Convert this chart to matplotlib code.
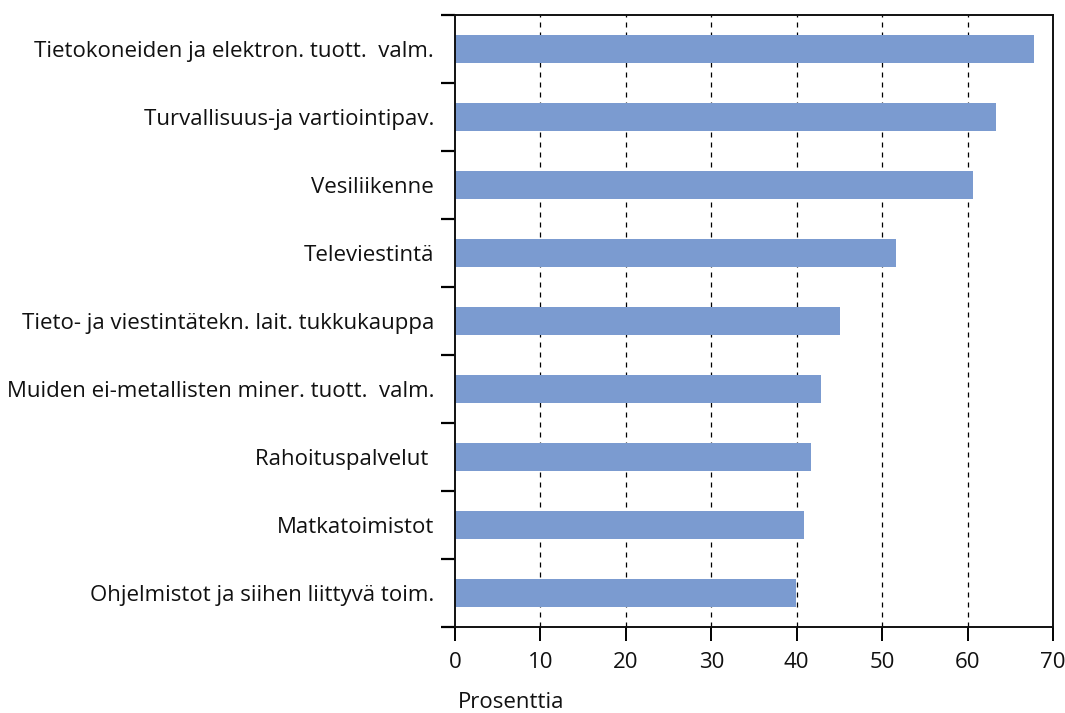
import matplotlib
matplotlib.use("Agg")
import matplotlib.pyplot as plt
import numpy as np

categories = [
    "Tietokoneiden ja elektron. tuott.  valm.",
    "Turvallisuus-ja vartiointipav.",
    "Vesiliikenne",
    "Televiestintä",
    "Tieto- ja viestintätekn. lait. tukkukauppa",
    "Muiden ei-metallisten miner. tuott.  valm.",
    "Rahoituspalvelut ",
    "Matkatoimistot",
    "Ohjelmistot ja siihen liittyvä toim.",
]
values = [67.8, 63.3, 60.6, 51.6, 45.1, 42.8, 41.7, 40.9, 39.9]
xticks = [0, 10, 20, 30, 40, 50, 60, 70]
xlabel = "Prosenttia"

plt.rcParams['font.family'] = ['Open Sans', 'DejaVu Sans']
FS = 16

fig = plt.figure(figsize=(10.65, 7.13), dpi=100)
ax = fig.add_axes([455/1065, 1-627/713, (1053-455)/1065, (627-15)/713])

n = len(categories)
y = np.arange(n)
ax.barh(y, values, height=0.4, color='#7b9bd0', zorder=2)
ax.set_ylim(n - 0.5, -0.5)
ax.set_xlim(0, 70)

for v in xticks[1:-1]:
    ax.axvline(v, color='black', linestyle=(0, (4, 4)), linewidth=0.9, zorder=1)

ax.set_yticks(y)
ax.set_yticklabels(categories, fontsize=FS, color='#111111')
ax.tick_params(axis='y', which='major', length=0, pad=15)
ax.set_yticks(np.arange(-0.5, n, 1.0), minor=True)
ax.tick_params(axis='y', which='minor', length=10, width=1.6, direction='out')

ax.set_xticks(xticks)
ax.set_xticklabels([str(t) for t in xticks], fontsize=FS, color='#111111')
ax.tick_params(axis='x', which='major', length=10, width=1.4, direction='out', pad=8)

for s in ax.spines.values():
    s.set_linewidth(1.4)
    s.set_color('#111111')

fig.text(458/1065, 1-703/713, xlabel, fontsize=FS, ha='left', va='center', color='#111111')

fig.savefig("out.png", dpi=100)
